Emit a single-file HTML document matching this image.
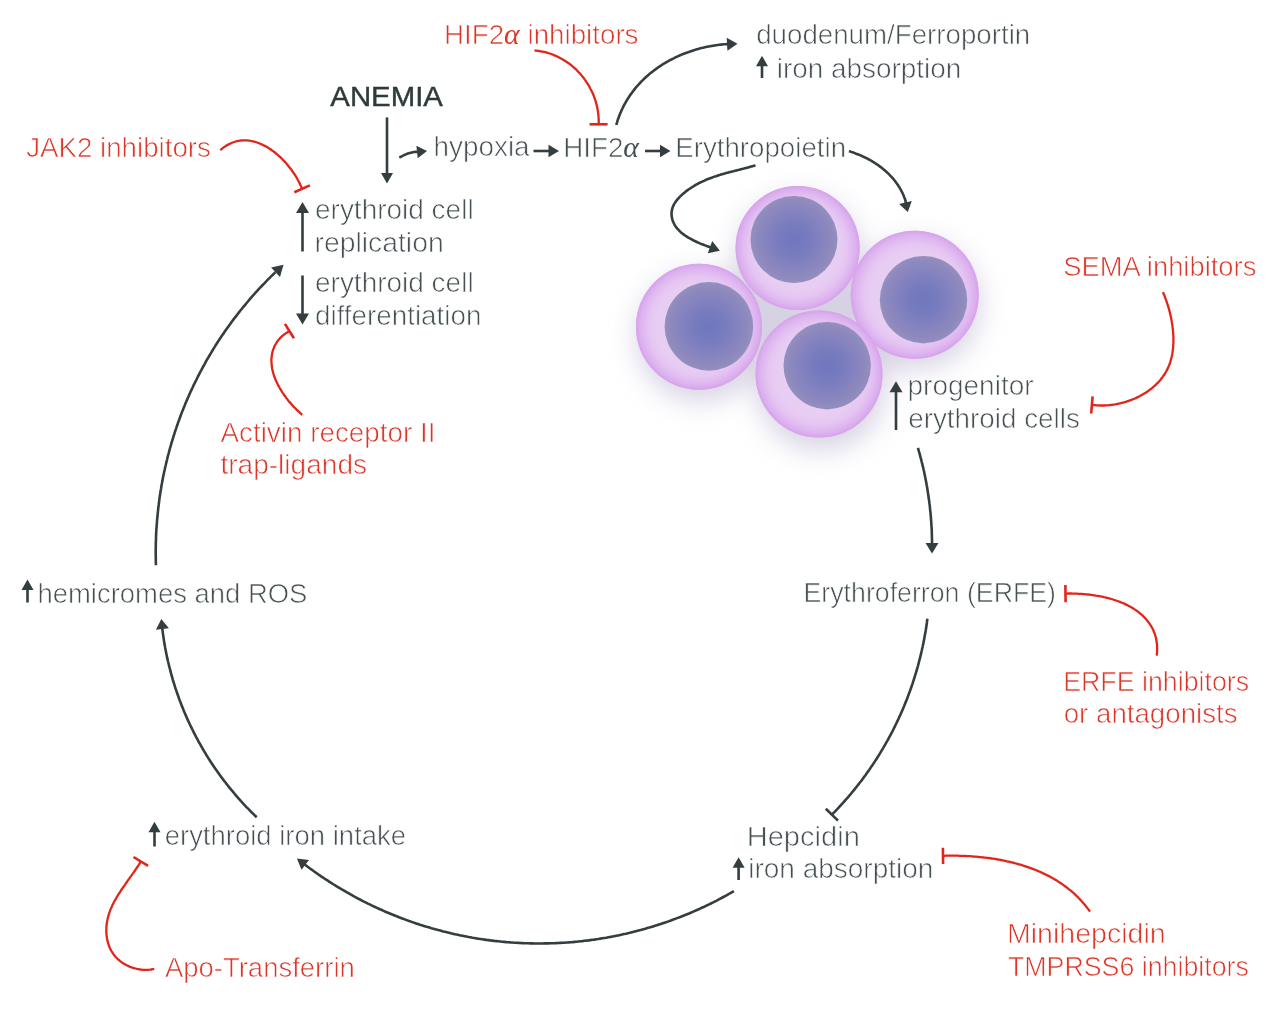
<!DOCTYPE html>
<html><head><meta charset="utf-8">
<style>
html,body{margin:0;padding:0;background:#fff;width:1280px;height:1025px;overflow:hidden}
svg{display:block;will-change:transform}
text{font-family:"Liberation Sans",sans-serif;font-size:27px;stroke:#fff;stroke-width:0.65px}
.g{fill:#465052}
.b{fill:#2f3a3a;stroke:#2f3a3a;stroke-width:0.4px}
.r{fill:#dc3627}
.ln{fill:none;stroke:#343d3f;stroke-width:2.6;stroke-linejoin:round}
.rl{fill:none;stroke:#e1251b;stroke-width:2.3}
.bar{stroke-width:2.6}
.ah{fill:#343d3f}
.al{font-family:"Liberation Serif",serif;font-style:italic;font-size:29px;stroke:none}


</style></head>
<body>
<svg width="1280" height="1025" viewBox="0 0 1280 1025">
<defs>
<filter id="blurS" x="-100%" y="-100%" width="300%" height="300%"><feGaussianBlur stdDeviation="14"/></filter>
<filter id="blur1" x="-10%" y="-10%" width="120%" height="120%"><feGaussianBlur stdDeviation="0.7"/></filter>
<radialGradient id="cyto" cx="0.5" cy="0.5" r="0.5">
<stop offset="0" stop-color="#e9d1f4"/>
<stop offset="0.68" stop-color="#e8cdf3"/>
<stop offset="0.8" stop-color="#e5c5f2"/>
<stop offset="0.9" stop-color="#dfb7f0"/>
<stop offset="0.96" stop-color="#daadee"/>
<stop offset="1" stop-color="#d7a6ed"/>
</radialGradient>
<radialGradient id="nuc" cx="0.5" cy="0.5" r="0.5">
<stop offset="0" stop-color="#7077be"/>
<stop offset="0.35" stop-color="#777bbe"/>
<stop offset="0.65" stop-color="#8583c0"/>
<stop offset="0.86" stop-color="#8d89bd"/>
<stop offset="1" stop-color="#948fbf"/>
</radialGradient>
</defs>
<g filter="url(#blurS)" opacity="0.7">
<circle cx="701" cy="337" r="64" fill="#c6bfd7"/>
<circle cx="799" cy="258" r="62" fill="#c6bfd7"/>
<circle cx="916" cy="305" r="64" fill="#c6bfd7"/>
<circle cx="821" cy="386" r="64" fill="#c6bfd7"/>
<rect x="730" y="275" width="160" height="100" fill="#c6bfd7"/>
</g>
<g>
<circle cx="699" cy="326.8" r="63" fill="url(#cyto)"/>
<circle cx="699" cy="326.8" r="62" fill="none" stroke="#d9a6ec" stroke-width="2" filter="url(#blur1)"/>
<circle cx="708.9" cy="326.4" r="44.3" fill="url(#nuc)" filter="url(#blur1)"/>
<circle cx="797.6" cy="248" r="62" fill="url(#cyto)"/>
<circle cx="797.6" cy="248" r="61" fill="none" stroke="#d9a6ec" stroke-width="2" filter="url(#blur1)"/>
<circle cx="794" cy="239.5" r="43.5" fill="url(#nuc)" filter="url(#blur1)"/>
<circle cx="914.7" cy="294.7" r="64" fill="url(#cyto)"/>
<circle cx="914.7" cy="294.7" r="63" fill="none" stroke="#d9a6ec" stroke-width="2" filter="url(#blur1)"/>
<circle cx="923.5" cy="299.7" r="43.7" fill="url(#nuc)" filter="url(#blur1)"/>
<circle cx="819" cy="374" r="63.5" fill="url(#cyto)"/>
<circle cx="819" cy="374" r="62.5" fill="none" stroke="#d9a6ec" stroke-width="2" filter="url(#blur1)"/>
<circle cx="827.2" cy="365.7" r="43.7" fill="url(#nuc)" filter="url(#blur1)"/>
</g>

<path class="ln" d="M387.0,117.4 L387.0,174.1"/>
<path class="ln" d="M302.5,251.5 L302.5,212.0"/>
<path class="ln" d="M302.5,275.5 L302.5,314.5"/>
<path class="ln" d="M533.5,151.0 L549.5,151.0"/>
<path class="ln" d="M645.0,151.0 L661.0,151.0"/>
<path class="ln" d="M896.0,430.0 L896.0,391.2"/>
<path class="ln" d="M27.5,602.5 L27.5,589.0"/>
<path class="ln" d="M154.5,846.5 L154.5,831.3"/>
<path class="ln" d="M738.6,880.0 L738.6,866.8"/>
<path class="ln" d="M762.0,78.0 L762.0,65.2"/>
<path class="ln" d="M399.3,157.6 L400.7,156.8 L402.1,156.1 L403.6,155.4 L405.0,154.7 L406.5,154.1 L408.0,153.6 L409.6,153.1 L411.1,152.7 L412.7,152.3 L414.2,152.0 L415.8,151.7 L418.1,152.0"/>
<path class="ln" d="M616.3,125.0 L616.7,123.5 L617.2,121.9 L617.6,120.4 L618.1,118.9 L618.7,117.4 L619.2,116.0 L619.8,114.5 L620.4,113.1 L621.0,111.7 L621.6,110.2 L622.3,108.8 L622.9,107.5 L623.6,106.1 L624.3,104.7 L625.1,103.4 L625.8,102.1 L626.6,100.7 L627.4,99.4 L628.2,98.2 L629.0,96.9 L629.8,95.6 L630.7,94.4 L631.6,93.2 L632.5,92.0 L633.4,90.8 L634.3,89.6 L635.2,88.4 L636.2,87.2 L637.2,86.1 L638.2,85.0 L639.2,83.9 L640.2,82.8 L641.2,81.7 L642.3,80.6 L643.3,79.6 L644.4,78.5 L645.5,77.5 L646.6,76.5 L647.8,75.5 L648.9,74.5 L650.0,73.6 L651.2,72.6 L652.4,71.7 L653.6,70.8 L654.8,69.9 L656.0,69.0 L657.2,68.1 L658.4,67.2 L659.7,66.4 L660.9,65.6 L662.2,64.7 L663.5,63.9 L664.8,63.2 L666.1,62.4 L667.4,61.6 L668.7,60.9 L670.0,60.2 L671.4,59.5 L672.7,58.8 L674.1,58.1 L675.4,57.4 L676.8,56.8 L678.2,56.1 L679.6,55.5 L681.0,54.9 L682.4,54.3 L683.8,53.8 L685.2,53.2 L686.6,52.7 L688.1,52.2 L689.5,51.7 L691.0,51.2 L692.4,50.7 L693.9,50.2 L695.3,49.8 L696.8,49.3 L698.3,48.9 L699.7,48.5 L701.2,48.1 L702.7,47.8 L704.2,47.4 L705.7,47.1 L707.2,46.8 L708.7,46.5 L710.2,46.2 L711.7,45.9 L713.2,45.7 L714.7,45.4 L716.2,45.2 L717.7,45.0 L719.3,44.8 L720.8,44.6 L722.3,44.5 L723.8,44.3 L725.3,44.2 L726.9,44.1 L728.0,44.2"/>
<path class="ln" d="M848.9,151.2 L850.4,151.6 L851.8,152.1 L853.3,152.6 L854.7,153.1 L856.2,153.7 L857.6,154.2 L859.1,154.8 L860.5,155.4 L861.9,156.0 L863.3,156.7 L864.7,157.3 L866.1,158.0 L867.5,158.7 L868.9,159.5 L870.3,160.2 L871.6,161.0 L873.0,161.8 L874.3,162.6 L875.6,163.5 L876.9,164.4 L878.2,165.2 L879.4,166.1 L880.7,167.1 L881.9,168.0 L883.1,169.0 L884.3,170.0 L885.5,171.0 L886.6,172.0 L887.8,173.1 L888.9,174.2 L890.0,175.3 L891.0,176.4 L892.1,177.5 L893.1,178.7 L894.0,179.8 L895.0,181.0 L895.9,182.2 L896.8,183.5 L897.7,184.7 L898.5,186.0 L899.4,187.3 L900.1,188.6 L900.9,189.9 L901.6,191.3 L902.3,192.6 L902.9,194.0 L903.6,195.4 L904.1,196.9 L904.7,198.3 L905.2,199.8 L905.6,201.2 L905.7,203.4"/>
<path class="ln" d="M755.5,165.4 L754.0,165.8 L752.6,166.2 L751.1,166.6 L749.6,167.0 L748.2,167.4 L746.7,167.8 L745.2,168.2 L743.8,168.6 L742.3,168.9 L740.8,169.3 L739.4,169.7 L737.9,170.0 L736.4,170.4 L734.9,170.8 L733.5,171.2 L732.0,171.5 L730.5,171.9 L729.1,172.3 L727.6,172.7 L726.1,173.1 L724.7,173.5 L723.2,173.9 L721.8,174.3 L720.3,174.8 L718.8,175.2 L717.4,175.7 L715.9,176.2 L714.5,176.6 L713.1,177.1 L711.6,177.7 L710.2,178.2 L708.8,178.8 L707.3,179.3 L705.9,179.9 L704.5,180.6 L703.1,181.2 L701.7,181.9 L700.3,182.5 L698.9,183.2 L697.5,184.0 L696.1,184.7 L694.7,185.5 L693.4,186.4 L692.0,187.2 L690.7,188.1 L689.3,189.0 L688.0,189.9 L686.6,190.9 L685.3,191.9 L684.1,192.9 L682.8,194.0 L681.6,195.1 L680.4,196.2 L679.3,197.3 L678.3,198.5 L677.2,199.7 L676.3,200.9 L675.4,202.1 L674.6,203.4 L673.9,204.6 L673.3,205.9 L672.7,207.2 L672.3,208.6 L672.0,209.9 L671.7,211.3 L671.6,212.7 L671.5,214.1 L671.6,215.5 L671.8,216.9 L672.0,218.2 L672.4,219.6 L672.8,221.0 L673.4,222.3 L674.0,223.6 L674.7,224.9 L675.5,226.2 L676.3,227.4 L677.3,228.6 L678.3,229.7 L679.3,230.8 L680.5,231.9 L681.7,232.9 L682.9,233.9 L684.2,234.9 L685.5,235.8 L686.9,236.7 L688.3,237.6 L689.8,238.4 L691.3,239.2 L692.7,240.0 L694.3,240.8 L695.8,241.5 L697.3,242.2 L698.9,242.9 L700.4,243.6 L702.0,244.2 L703.5,244.8 L705.1,245.4 L706.6,246.0 L708.1,246.5 L709.5,247.0 L711.0,247.5"/>
<path class="ln" d="M917.9,447.8 L918.5,449.8 L919.0,451.7 L919.6,453.7 L920.1,455.6 L920.6,457.6 L921.2,459.5 L921.6,461.5 L922.1,463.4 L922.6,465.4 L923.1,467.4 L923.5,469.3 L924.0,471.3 L924.4,473.3 L924.8,475.3 L925.2,477.2 L925.6,479.2 L926.0,481.2 L926.4,483.2 L926.7,485.2 L927.1,487.2 L927.4,489.2 L927.7,491.2 L928.0,493.2 L928.3,495.2 L928.6,497.2 L928.9,499.2 L929.2,501.2 L929.4,503.2 L929.7,505.2 L929.9,507.2 L930.1,509.2 L930.3,511.2 L930.5,513.2 L930.7,515.2 L930.9,517.2 L931.0,519.3 L931.2,521.3 L931.3,523.3 L931.4,525.3 L931.6,527.3 L931.7,529.4 L931.8,531.4 L931.8,533.4 L931.9,535.4 L931.9,537.4 L932.0,539.5 L932.0,541.5 L932.0,544.1"/>
<path class="ln" d="M927.4,618.7 L927.1,620.7 L926.9,622.7 L926.6,624.7 L926.3,626.7 L926.0,628.7 L925.7,630.7 L925.3,632.7 L925.0,634.6 L924.6,636.6 L924.3,638.6 L923.9,640.6 L923.5,642.6 L923.1,644.6 L922.7,646.5 L922.2,648.5 L921.8,650.5 L921.3,652.4 L920.9,654.4 L920.4,656.4 L919.9,658.3 L919.4,660.3 L918.9,662.2 L918.4,664.2 L917.9,666.1 L917.3,668.1 L916.8,670.0 L916.2,671.9 L915.6,673.9 L915.0,675.8 L914.4,677.7 L913.8,679.7 L913.2,681.6 L912.6,683.5 L911.9,685.4 L911.3,687.3 L910.6,689.2 L909.9,691.1 L909.2,693.0 L908.5,694.9 L907.8,696.8 L907.1,698.7 L906.4,700.6 L905.6,702.4 L904.8,704.3 L904.1,706.2 L903.3,708.0 L902.5,709.9 L901.7,711.7 L900.9,713.6 L900.1,715.4 L899.2,717.3 L898.4,719.1 L897.5,720.9 L896.7,722.7 L895.8,724.5 L894.9,726.4 L894.0,728.2 L893.1,730.0 L892.2,731.8 L891.2,733.6 L890.3,735.3 L889.3,737.1 L888.4,738.9 L887.4,740.7 L886.4,742.4 L885.4,744.2 L884.4,745.9 L883.4,747.7 L882.4,749.4 L881.3,751.1 L880.3,752.9 L879.2,754.6 L878.2,756.3 L877.1,758.0 L876.0,759.7 L874.9,761.4 L873.8,763.1 L872.7,764.8 L871.5,766.4 L870.4,768.1 L869.3,769.8 L868.1,771.4 L866.9,773.1 L865.8,774.7 L864.6,776.3 L863.4,777.9 L862.2,779.6 L861.0,781.2 L859.7,782.8 L858.5,784.4 L857.2,786.0 L856.0,787.5 L854.7,789.1 L853.5,790.7 L852.2,792.2 L850.9,793.8 L849.6,795.3 L848.3,796.9 L847.0,798.4 L845.6,799.9 L844.3,801.4 L843.0,802.9 L841.6,804.4 L840.2,805.9 L838.9,807.4 L837.5,808.9 L836.1,810.3 L834.7,811.8 L833.3,813.2 L831.9,814.7"/>
<path class="ln bar" d="M825.8,808.7 L838.0,820.6"/>
<path class="ln" d="M733.9,891.2 L732.1,892.2 L730.4,893.2 L728.6,894.1 L726.9,895.1 L725.1,896.1 L723.4,897.0 L721.6,898.0 L719.8,898.9 L718.0,899.9 L716.3,900.8 L714.5,901.7 L712.7,902.6 L710.9,903.5 L709.1,904.4 L707.3,905.2 L705.5,906.1 L703.6,907.0 L701.8,907.8 L700.0,908.6 L698.2,909.5 L696.3,910.3 L694.5,911.1 L692.7,911.9 L690.8,912.7 L689.0,913.5 L687.1,914.2 L685.2,915.0 L683.4,915.7 L681.5,916.5 L679.7,917.2 L677.8,917.9 L675.9,918.6 L674.0,919.3 L672.1,920.0 L670.3,920.7 L668.4,921.4 L666.5,922.1 L664.6,922.7 L662.7,923.3 L660.8,924.0 L658.9,924.6 L656.9,925.2 L655.0,925.8 L653.1,926.4 L651.2,927.0 L649.3,927.6 L647.3,928.1 L645.4,928.7 L643.5,929.2 L641.5,929.8 L639.6,930.3 L637.7,930.8 L635.7,931.3 L633.8,931.8 L631.8,932.3 L629.9,932.8 L627.9,933.2 L626.0,933.7 L624.0,934.1 L622.1,934.6 L620.1,935.0 L618.1,935.4 L616.2,935.8 L614.2,936.2 L612.2,936.6 L610.2,936.9 L608.3,937.3 L606.3,937.7 L604.3,938.0 L602.3,938.3 L600.4,938.6 L598.4,939.0 L596.4,939.3 L594.4,939.6 L592.4,939.8 L590.4,940.1 L588.4,940.4 L586.4,940.6 L584.5,940.8 L582.5,941.1 L580.5,941.3 L578.5,941.5 L576.5,941.7 L574.5,941.9 L572.5,942.1 L570.5,942.2 L568.5,942.4 L566.5,942.5 L564.5,942.7 L562.5,942.8 L560.5,942.9 L558.5,943.0 L556.4,943.1 L554.4,943.2 L552.4,943.3 L550.4,943.3 L548.4,943.4 L546.4,943.4 L544.4,943.4 L542.4,943.5 L540.4,943.5 L538.4,943.5 L536.4,943.5 L534.4,943.5 L532.4,943.4 L530.4,943.4 L528.4,943.3 L526.3,943.3 L524.3,943.2 L522.3,943.1 L520.3,943.0 L518.3,942.9 L516.3,942.8 L514.3,942.7 L512.3,942.5 L510.3,942.4 L508.3,942.2 L506.3,942.1 L504.3,941.9 L502.3,941.7 L500.3,941.5 L498.3,941.3 L496.3,941.1 L494.3,940.9 L492.3,940.6 L490.3,940.4 L488.4,940.1 L486.4,939.9 L484.4,939.6 L482.4,939.3 L480.4,939.0 L478.4,938.7 L476.4,938.4 L474.5,938.0 L472.5,937.7 L470.5,937.3 L468.5,937.0 L466.6,936.6 L464.6,936.2 L462.6,935.8 L460.7,935.4 L458.7,935.0 L456.7,934.6 L454.8,934.2 L452.8,933.7 L450.9,933.3 L448.9,932.8 L447.0,932.3 L445.0,931.8 L443.1,931.4 L441.1,930.8 L439.2,930.3 L437.2,929.8 L435.3,929.3 L433.4,928.7 L431.4,928.2 L429.5,927.6 L427.6,927.0 L425.7,926.5 L423.8,925.9 L421.8,925.3 L419.9,924.7 L418.0,924.0 L416.1,923.4 L414.2,922.8 L412.3,922.1 L410.4,921.4 L408.5,920.8 L406.6,920.1 L404.8,919.4 L402.9,918.7 L401.0,918.0 L399.1,917.3 L397.3,916.5 L395.4,915.8 L393.5,915.0 L391.7,914.3 L389.8,913.5 L388.0,912.7 L386.1,912.0 L384.3,911.2 L382.4,910.3 L380.6,909.5 L378.8,908.7 L377.0,907.9 L375.1,907.0 L373.3,906.2 L371.5,905.3 L369.7,904.4 L367.9,903.6 L366.1,902.7 L364.3,901.8 L362.5,900.9 L360.7,899.9 L358.9,899.0 L357.2,898.1 L355.4,897.1 L353.6,896.2 L351.9,895.2 L350.1,894.2 L348.4,893.2 L346.6,892.2 L344.9,891.2 L343.2,890.2 L341.4,889.2 L339.7,888.2 L338.0,887.1 L336.3,886.1 L334.6,885.0 L332.9,884.0 L331.2,882.9 L329.5,881.8 L327.8,880.7 L326.1,879.6 L324.4,878.5 L322.8,877.4 L321.1,876.3 L319.4,875.2 L317.8,874.0 L316.2,872.9 L314.5,871.7 L312.9,870.5 L311.3,869.4 L309.6,868.2 L308.0,867.0 L306.4,865.8 L304.4,864.2"/>
<path class="ln" d="M256.7,817.2 L255.2,815.8 L253.8,814.4 L252.3,813.0 L250.9,811.6 L249.5,810.1 L248.1,808.7 L246.7,807.3 L245.3,805.8 L243.9,804.3 L242.6,802.8 L241.2,801.4 L239.9,799.9 L238.5,798.3 L237.2,796.8 L235.9,795.3 L234.6,793.8 L233.3,792.2 L232.0,790.7 L230.7,789.1 L229.4,787.6 L228.2,786.0 L226.9,784.4 L225.7,782.8 L224.4,781.2 L223.2,779.6 L222.0,778.0 L220.8,776.4 L219.6,774.8 L218.4,773.1 L217.3,771.5 L216.1,769.8 L215.0,768.2 L213.8,766.5 L212.7,764.8 L211.6,763.2 L210.5,761.5 L209.4,759.8 L208.3,758.1 L207.3,756.4 L206.2,754.7 L205.2,752.9 L204.1,751.2 L203.1,749.5 L202.1,747.7 L201.1,746.0 L200.1,744.2 L199.1,742.5 L198.1,740.7 L197.2,738.9 L196.2,737.2 L195.3,735.4 L194.4,733.6 L193.5,731.8 L192.6,730.0 L191.7,728.2 L190.8,726.4 L189.9,724.5 L189.1,722.7 L188.2,720.9 L187.4,719.1 L186.6,717.2 L185.8,715.4 L185.0,713.5 L184.2,711.7 L183.4,709.8 L182.7,707.9 L181.9,706.1 L181.2,704.2 L180.5,702.3 L179.7,700.4 L179.0,698.5 L178.4,696.6 L177.7,694.7 L177.0,692.8 L176.4,690.9 L175.7,689.0 L175.1,687.1 L174.5,685.2 L173.9,683.2 L173.3,681.3 L172.7,679.4 L172.2,677.4 L171.6,675.5 L171.1,673.6 L170.6,671.6 L170.1,669.7 L169.6,667.7 L169.1,665.8 L168.6,663.8 L168.1,661.8 L167.7,659.9 L167.2,657.9 L166.8,655.9 L166.4,654.0 L166.0,652.0 L165.6,650.0 L165.2,648.0 L164.9,646.1 L164.5,644.1 L164.2,642.1 L163.9,640.1 L163.6,638.1 L163.3,636.1 L163.0,634.1 L162.7,632.1 L162.5,630.1 L162.3,628.0"/>
<path class="ln" d="M155.9,565.2 L155.9,563.2 L155.8,561.2 L155.8,559.2 L155.8,557.1 L155.7,555.1 L155.7,553.1 L155.7,551.1 L155.7,549.1 L155.8,547.1 L155.8,545.1 L155.8,543.1 L155.9,541.0 L156.0,539.0 L156.0,537.0 L156.1,535.0 L156.2,533.0 L156.3,531.0 L156.4,529.0 L156.6,527.0 L156.7,525.0 L156.9,523.0 L157.0,521.0 L157.2,519.0 L157.4,517.0 L157.6,515.0 L157.8,512.9 L158.0,510.9 L158.2,508.9 L158.4,507.0 L158.7,505.0 L158.9,503.0 L159.2,501.0 L159.4,499.0 L159.7,497.0 L160.0,495.0 L160.3,493.0 L160.6,491.0 L161.0,489.0 L161.3,487.0 L161.6,485.1 L162.0,483.1 L162.4,481.1 L162.7,479.1 L163.1,477.1 L163.5,475.2 L163.9,473.2 L164.3,471.2 L164.8,469.3 L165.2,467.3 L165.7,465.3 L166.1,463.4 L166.6,461.4 L167.1,459.5 L167.5,457.5 L168.0,455.6 L168.6,453.6 L169.1,451.7 L169.6,449.7 L170.1,447.8 L170.7,445.9 L171.2,443.9 L171.8,442.0 L172.4,440.1 L173.0,438.2 L173.6,436.2 L174.2,434.3 L174.8,432.4 L175.4,430.5 L176.1,428.6 L176.7,426.7 L177.4,424.8 L178.0,422.9 L178.7,421.0 L179.4,419.1 L180.1,417.2 L180.8,415.3 L181.5,413.4 L182.2,411.6 L183.0,409.7 L183.7,407.8 L184.5,406.0 L185.2,404.1 L186.0,402.2 L186.8,400.4 L187.6,398.5 L188.4,396.7 L189.2,394.9 L190.0,393.0 L190.9,391.2 L191.7,389.4 L192.6,387.5 L193.4,385.7 L194.3,383.9 L195.2,382.1 L196.1,380.3 L197.0,378.5 L197.9,376.7 L198.8,374.9 L199.7,373.1 L200.6,371.3 L201.6,369.6 L202.5,367.8 L203.5,366.0 L204.5,364.3 L205.4,362.5 L206.4,360.7 L207.4,359.0 L208.4,357.3 L209.5,355.5 L210.5,353.8 L211.5,352.1 L212.6,350.3 L213.6,348.6 L214.7,346.9 L215.7,345.2 L216.8,343.5 L217.9,341.8 L219.0,340.1 L220.1,338.5 L221.2,336.8 L222.4,335.1 L223.5,333.5 L224.6,331.8 L225.8,330.1 L226.9,328.5 L228.1,326.9 L229.3,325.2 L230.5,323.6 L231.6,322.0 L232.8,320.4 L234.0,318.8 L235.3,317.1 L236.5,315.6 L237.7,314.0 L239.0,312.4 L240.2,310.8 L241.5,309.2 L242.7,307.7 L244.0,306.1 L245.3,304.6 L246.6,303.0 L247.9,301.5 L249.2,299.9 L250.5,298.4 L251.8,296.9 L253.1,295.4 L254.5,293.9 L255.8,292.4 L257.2,290.9 L258.5,289.4 L259.9,287.9 L261.3,286.5 L262.7,285.0 L264.1,283.6 L265.5,282.1 L266.9,280.7 L268.3,279.2 L269.7,277.8 L271.1,276.4 L272.6,275.0 L274.0,273.6 L275.4,272.2"/>
<path class="rl" d="M534.5,50.5 L536.1,50.6 L537.6,50.8 L539.2,51.0 L540.7,51.3 L542.2,51.6 L543.8,51.9 L545.3,52.2 L546.8,52.6 L548.2,53.1 L549.7,53.5 L551.2,54.0 L552.6,54.5 L554.0,55.1 L555.4,55.7 L556.8,56.3 L558.2,57.0 L559.6,57.7 L560.9,58.4 L562.3,59.2 L563.6,59.9 L564.9,60.7 L566.1,61.6 L567.4,62.4 L568.7,63.3 L569.9,64.2 L571.1,65.2 L572.3,66.2 L573.4,67.1 L574.6,68.2 L575.7,69.2 L576.8,70.3 L577.9,71.4 L578.9,72.5 L580.0,73.6 L581.0,74.8 L582.0,75.9 L582.9,77.1 L583.9,78.3 L584.8,79.6 L585.7,80.8 L586.5,82.1 L587.4,83.4 L588.2,84.7 L589.0,86.0 L589.7,87.3 L590.4,88.7 L591.1,90.0 L591.8,91.4 L592.5,92.8 L593.1,94.2 L593.7,95.6 L594.2,97.1 L594.7,98.5 L595.2,100.0 L595.7,101.4 L596.1,102.9 L596.5,104.4 L596.9,105.9 L597.2,107.4 L597.5,108.9 L597.8,110.4 L598.0,111.9 L598.2,113.5 L598.4,115.0 L598.5,116.5 L598.6,118.1 L598.7,119.6 L598.7,121.2 L598.7,122.7 L598.6,124.3"/>
<path class="rl bar" d="M589.6,124.3 L607.6,124.3"/>
<path class="rl" d="M220.3,150.2 L221.7,149.0 L223.0,147.9 L224.4,146.9 L225.8,146.0 L227.2,145.1 L228.6,144.4 L230.0,143.7 L231.4,143.0 L232.8,142.5 L234.2,142.0 L235.7,141.5 L237.1,141.2 L238.5,140.9 L239.9,140.7 L241.4,140.5 L242.8,140.4 L244.2,140.3 L245.7,140.4 L247.1,140.4 L248.5,140.6 L249.9,140.7 L251.3,141.0 L252.8,141.3 L254.2,141.6 L255.6,142.0 L257.0,142.5 L258.4,142.9 L259.7,143.5 L261.1,144.1 L262.5,144.7 L263.8,145.4 L265.2,146.1 L266.5,146.8 L267.8,147.6 L269.2,148.4 L270.5,149.3 L271.7,150.2 L273.0,151.1 L274.3,152.0 L275.5,153.0 L276.7,154.0 L277.9,155.1 L279.1,156.1 L280.3,157.2 L281.5,158.3 L282.6,159.5 L283.7,160.6 L284.8,161.8 L285.9,163.0 L287.0,164.2 L288.0,165.5 L289.0,166.7 L290.0,168.0 L291.0,169.2 L291.9,170.5 L292.8,171.8 L293.7,173.1 L294.6,174.4 L295.4,175.7 L296.2,177.0 L297.0,178.3 L297.7,179.7 L298.4,181.0 L299.1,182.3 L299.8,183.6 L300.4,184.9 L301.0,186.2 L301.6,187.5 L302.1,188.8"/>
<path class="rl bar" d="M294.3,192.2 L309.9,185.4"/>
<path class="rl" d="M302.2,414.8 L301.1,413.9 L300.1,412.9 L299.0,411.9 L297.9,410.9 L296.8,409.9 L295.8,408.8 L294.7,407.7 L293.6,406.6 L292.6,405.5 L291.5,404.3 L290.5,403.1 L289.4,401.9 L288.4,400.7 L287.4,399.4 L286.4,398.1 L285.5,396.8 L284.5,395.5 L283.6,394.2 L282.7,392.9 L281.8,391.5 L281.0,390.1 L280.1,388.7 L279.3,387.3 L278.5,385.9 L277.8,384.5 L277.1,383.1 L276.4,381.6 L275.8,380.2 L275.2,378.7 L274.6,377.3 L274.1,375.8 L273.6,374.3 L273.2,372.9 L272.8,371.4 L272.4,369.9 L272.1,368.4 L271.9,366.9 L271.7,365.5 L271.6,364.0 L271.5,362.5 L271.4,361.0 L271.4,359.5 L271.5,358.1 L271.7,356.6 L271.9,355.2 L272.1,353.7 L272.4,352.3 L272.8,350.9 L273.2,349.5 L273.8,348.2 L274.3,346.8 L274.9,345.5 L275.6,344.2 L276.4,342.9 L277.2,341.7 L278.1,340.4 L279.1,339.3 L280.1,338.1 L281.2,337.0 L282.4,335.9 L283.7,334.9 L285.0,333.9 L286.4,332.9 L287.9,332.0 L289.4,331.1"/>
<path class="rl bar" d="M293.9,338.3 L284.9,323.9"/>
<path class="rl" d="M1163.0,292.2 L1163.5,293.5 L1164.1,294.8 L1164.6,296.1 L1165.1,297.5 L1165.6,298.8 L1166.1,300.2 L1166.6,301.6 L1167.1,303.1 L1167.6,304.5 L1168.0,305.9 L1168.5,307.4 L1168.9,308.9 L1169.3,310.4 L1169.7,311.9 L1170.1,313.4 L1170.4,314.9 L1170.8,316.5 L1171.1,318.0 L1171.4,319.6 L1171.7,321.1 L1171.9,322.7 L1172.2,324.3 L1172.4,325.8 L1172.6,327.4 L1172.8,329.0 L1173.0,330.6 L1173.1,332.1 L1173.2,333.7 L1173.3,335.3 L1173.4,336.9 L1173.4,338.5 L1173.4,340.0 L1173.4,341.6 L1173.4,343.2 L1173.3,344.7 L1173.2,346.3 L1173.1,347.8 L1172.9,349.3 L1172.7,350.9 L1172.5,352.4 L1172.3,353.9 L1172.0,355.4 L1171.7,356.8 L1171.3,358.3 L1170.9,359.8 L1170.5,361.2 L1170.1,362.6 L1169.6,364.0 L1169.1,365.4 L1168.5,366.7 L1167.9,368.1 L1167.3,369.4 L1166.6,370.7 L1165.9,372.0 L1165.1,373.3 L1164.4,374.5 L1163.5,375.7 L1162.7,376.9 L1161.8,378.1 L1160.9,379.2 L1160.0,380.4 L1159.0,381.5 L1158.0,382.6 L1156.9,383.6 L1155.9,384.7 L1154.8,385.7 L1153.7,386.7 L1152.5,387.7 L1151.4,388.6 L1150.2,389.5 L1149.0,390.4 L1147.8,391.3 L1146.5,392.2 L1145.2,393.0 L1143.9,393.8 L1142.6,394.6 L1141.3,395.3 L1139.9,396.1 L1138.6,396.8 L1137.2,397.4 L1135.8,398.1 L1134.4,398.7 L1132.9,399.3 L1131.5,399.9 L1130.0,400.4 L1128.6,400.9 L1127.1,401.4 L1125.6,401.9 L1124.1,402.3 L1122.6,402.7 L1121.1,403.1 L1119.6,403.5 L1118.0,403.8 L1116.5,404.1 L1115.0,404.4 L1113.4,404.6 L1111.9,404.8 L1110.3,405.0 L1108.8,405.2 L1107.2,405.3 L1105.7,405.4 L1104.1,405.5 L1102.6,405.5 L1101.1,405.5 L1099.5,405.5 L1098.0,405.4 L1096.5,405.3 L1094.9,405.2 L1093.4,405.1 L1091.9,404.9"/>
<path class="rl bar" d="M1092.6,396.3 L1091.2,413.5"/>
<path class="rl" d="M1156.7,655.6 L1156.9,653.8 L1157.1,652.1 L1157.1,650.4 L1157.2,648.7 L1157.1,647.1 L1157.1,645.4 L1156.9,643.8 L1156.7,642.3 L1156.5,640.7 L1156.2,639.2 L1155.9,637.7 L1155.5,636.3 L1155.1,634.8 L1154.6,633.4 L1154.0,632.0 L1153.5,630.7 L1152.9,629.3 L1152.2,628.0 L1151.5,626.8 L1150.8,625.5 L1150.0,624.3 L1149.2,623.1 L1148.3,621.9 L1147.4,620.8 L1146.5,619.7 L1145.5,618.6 L1144.5,617.5 L1143.5,616.5 L1142.4,615.4 L1141.3,614.5 L1140.2,613.5 L1139.1,612.6 L1137.9,611.6 L1136.7,610.8 L1135.4,609.9 L1134.2,609.1 L1132.9,608.3 L1131.6,607.5 L1130.3,606.7 L1128.9,606.0 L1127.6,605.3 L1126.2,604.6 L1124.8,603.9 L1123.4,603.3 L1121.9,602.7 L1120.5,602.1 L1119.0,601.5 L1117.5,601.0 L1116.0,600.5 L1114.5,600.0 L1113.0,599.5 L1111.5,599.0 L1109.9,598.6 L1108.4,598.2 L1106.9,597.8 L1105.3,597.4 L1103.7,597.1 L1102.2,596.7 L1100.6,596.4 L1099.0,596.1 L1097.4,595.8 L1095.9,595.6 L1094.3,595.3 L1092.7,595.1 L1091.1,594.9 L1089.6,594.7 L1088.0,594.5 L1086.4,594.3 L1084.9,594.2 L1083.3,594.1 L1081.8,593.9 L1080.2,593.8 L1078.7,593.8 L1077.2,593.7 L1075.7,593.6 L1074.2,593.6 L1072.7,593.6 L1071.2,593.5 L1069.8,593.5 L1068.3,593.5 L1066.9,593.6 L1065.5,593.6"/>
<path class="rl bar" d="M1065.4,584.9 L1065.6,602.3"/>
<path class="rl" d="M1090.0,911.7 L1089.1,910.4 L1088.2,909.1 L1087.2,907.9 L1086.3,906.7 L1085.3,905.4 L1084.3,904.2 L1083.3,903.1 L1082.3,901.9 L1081.2,900.7 L1080.2,899.6 L1079.1,898.5 L1078.1,897.4 L1077.0,896.3 L1075.9,895.3 L1074.8,894.2 L1073.7,893.2 L1072.5,892.2 L1071.4,891.2 L1070.2,890.2 L1069.0,889.3 L1067.8,888.3 L1066.6,887.4 L1065.4,886.5 L1064.2,885.6 L1063.0,884.7 L1061.7,883.9 L1060.5,883.0 L1059.2,882.2 L1058.0,881.4 L1056.7,880.6 L1055.4,879.8 L1054.1,879.0 L1052.8,878.3 L1051.4,877.5 L1050.1,876.8 L1048.8,876.1 L1047.4,875.4 L1046.1,874.7 L1044.7,874.0 L1043.3,873.4 L1041.9,872.7 L1040.6,872.1 L1039.2,871.5 L1037.7,870.9 L1036.3,870.3 L1034.9,869.7 L1033.5,869.2 L1032.1,868.6 L1030.6,868.1 L1029.2,867.6 L1027.7,867.1 L1026.3,866.6 L1024.8,866.1 L1023.3,865.6 L1021.9,865.2 L1020.4,864.7 L1018.9,864.3 L1017.4,863.9 L1015.9,863.5 L1014.4,863.1 L1012.9,862.7 L1011.4,862.3 L1009.9,861.9 L1008.4,861.6 L1006.9,861.3 L1005.4,860.9 L1003.9,860.6 L1002.4,860.3 L1000.8,860.0 L999.3,859.7 L997.8,859.5 L996.2,859.2 L994.7,858.9 L993.2,858.7 L991.6,858.5 L990.1,858.2 L988.6,858.0 L987.0,857.8 L985.5,857.6 L984.0,857.5 L982.4,857.3 L980.9,857.1 L979.3,857.0 L977.8,856.8 L976.3,856.7 L974.7,856.6 L973.2,856.5 L971.7,856.3 L970.1,856.2 L968.6,856.2 L967.1,856.1 L965.5,856.0 L964.0,855.9 L962.5,855.9 L961.0,855.8 L959.4,855.8 L957.9,855.7 L956.4,855.7 L954.9,855.7 L953.4,855.7 L951.9,855.7 L950.4,855.7 L948.9,855.7 L947.4,855.7 L946.0,855.7 L944.5,855.8 L943.0,855.8"/>
<path class="rl bar" d="M942.9,847.7 L943.1,863.9"/>
<path class="rl" d="M154.3,968.9 L152.7,969.2 L151.1,969.5 L149.6,969.7 L148.0,969.8 L146.4,969.8 L144.8,969.8 L143.2,969.8 L141.6,969.6 L140.0,969.5 L138.5,969.2 L136.9,968.9 L135.4,968.5 L133.9,968.1 L132.4,967.7 L130.9,967.1 L129.5,966.6 L128.1,965.9 L126.7,965.3 L125.3,964.5 L124.0,963.8 L122.7,963.0 L121.4,962.1 L120.2,961.2 L119.1,960.2 L118.0,959.3 L116.9,958.2 L115.9,957.2 L114.9,956.1 L114.0,954.9 L113.1,953.7 L112.3,952.5 L111.6,951.3 L110.9,950.0 L110.2,948.7 L109.6,947.4 L109.1,946.0 L108.6,944.7 L108.2,943.3 L107.8,941.9 L107.4,940.4 L107.1,939.0 L106.9,937.5 L106.7,936.0 L106.5,934.6 L106.4,933.1 L106.4,931.6 L106.3,930.1 L106.4,928.5 L106.4,927.0 L106.6,925.5 L106.7,924.0 L106.9,922.5 L107.2,921.0 L107.5,919.5 L107.8,918.0 L108.2,916.6 L108.6,915.1 L109.1,913.6 L109.6,912.2 L110.1,910.7 L110.6,909.3 L111.2,907.9 L111.9,906.5 L112.5,905.1 L113.2,903.7 L113.9,902.3 L114.6,901.0 L115.4,899.6 L116.2,898.2 L116.9,896.9 L117.8,895.5 L118.6,894.2 L119.4,892.9 L120.3,891.6 L121.2,890.2 L122.0,888.9 L122.9,887.6 L123.8,886.3 L124.7,885.1 L125.6,883.8 L126.5,882.5 L127.4,881.2 L128.3,879.9 L129.2,878.7 L130.1,877.4 L131.0,876.2 L131.9,874.9 L132.8,873.7 L133.7,872.4 L134.5,871.2 L135.4,870.0 L136.2,868.7 L137.0,867.5 L137.8,866.3 L138.6,865.1 L139.4,863.8 L140.1,862.6 L140.8,861.4"/>
<path class="rl bar" d="M148.1,865.8 L133.5,857.0"/>
<polygon class="ah" points="387.0,183.6 381.0,173.1 393.0,173.1"/>
<polygon class="ah" points="302.5,202.0 309.0,213.0 296.0,213.0"/>
<polygon class="ah" points="302.5,324.5 296.0,313.5 309.0,313.5"/>
<polygon class="ah" points="559.0,151.0 548.5,157.3 548.5,144.7"/>
<polygon class="ah" points="670.5,151.0 660.0,157.3 660.0,144.7"/>
<polygon class="ah" points="896.0,381.2 902.5,392.2 889.5,392.2"/>
<polygon class="ah" points="27.5,579.5 33.5,590.0 21.5,590.0"/>
<polygon class="ah" points="154.5,821.8 160.5,832.3 148.5,832.3"/>
<polygon class="ah" points="738.6,857.3 744.6,867.8 732.6,867.8"/>
<polygon class="ah" points="762.0,55.7 768.0,66.2 756.0,66.2"/>
<polygon class="ah" points="427.0,151.0 417.7,158.3 416.4,145.8"/>
<polygon class="ah" points="737.5,43.8 727.4,50.8 726.7,37.8"/>
<polygon class="ah" points="907.8,212.1 899.1,203.9 911.8,200.9"/>
<polygon class="ah" points="719.9,250.7 707.8,253.3 712.2,241.0"/>
<polygon class="ah" points="932.0,553.6 925.5,543.1 938.5,543.1"/>
<polygon class="ah" points="296.9,858.4 309.0,859.9 301.5,869.7"/>
<polygon class="ah" points="161.3,619.1 168.9,628.3 155.9,629.8"/>
<polygon class="ah" points="283.5,264.7 280.0,276.9 271.1,267.5"/>
<text class="g" x="756.2" y="44" textLength="274.0" lengthAdjust="spacingAndGlyphs">duodenum/Ferroportin</text>
<text class="g" x="776.7" y="78" textLength="184.7" lengthAdjust="spacingAndGlyphs">iron absorption</text>
<text class="b" x="330.3" y="105.5" textLength="112.6" lengthAdjust="spacingAndGlyphs">ANEMIA</text>
<text class="g" x="433.5" y="156" textLength="96.1" lengthAdjust="spacingAndGlyphs">hypoxia</text>
<text class="g" x="563.2" y="157" textLength="75.8" lengthAdjust="spacingAndGlyphs">HIF2<tspan class="al">α</tspan></text>
<text class="g" x="675.2" y="157" textLength="170.9" lengthAdjust="spacingAndGlyphs">Erythropoietin</text>
<text class="g" x="315.0" y="219" textLength="158.6" lengthAdjust="spacingAndGlyphs">erythroid cell</text>
<text class="g" x="314.5" y="251.5" textLength="129.2" lengthAdjust="spacingAndGlyphs">replication</text>
<text class="g" x="315.0" y="292" textLength="158.6" lengthAdjust="spacingAndGlyphs">erythroid cell</text>
<text class="g" x="315.0" y="324.5" textLength="166.4" lengthAdjust="spacingAndGlyphs">differentiation</text>
<text class="g" x="907.5" y="395" textLength="126.1" lengthAdjust="spacingAndGlyphs">progenitor</text>
<text class="g" x="908.2" y="427.5" textLength="171.7" lengthAdjust="spacingAndGlyphs">erythroid cells</text>
<text class="g" x="37.5" y="602.5" textLength="269.9" lengthAdjust="spacingAndGlyphs">hemicromes and ROS</text>
<text class="g" x="803.5" y="602.3" textLength="252.5" lengthAdjust="spacingAndGlyphs">Erythroferron (ERFE)</text>
<text class="g" x="746.7" y="845.5" textLength="113.2" lengthAdjust="spacingAndGlyphs">Hepcidin</text>
<text class="g" x="748.2" y="877.7" textLength="185.2" lengthAdjust="spacingAndGlyphs">iron absorption</text>
<text class="g" x="164.7" y="845.2" textLength="241.4" lengthAdjust="spacingAndGlyphs">erythroid iron intake</text>
<text class="r" x="444.0" y="44" textLength="194.5" lengthAdjust="spacingAndGlyphs">HIF2<tspan class="al">α</tspan> inhibitors</text>
<text class="r" x="26.2" y="157.3" textLength="184.7" lengthAdjust="spacingAndGlyphs">JAK2 inhibitors</text>
<text class="r" x="1063.2" y="276" textLength="193.2" lengthAdjust="spacingAndGlyphs">SEMA inhibitors</text>
<text class="r" x="220.5" y="441.5" textLength="214.9" lengthAdjust="spacingAndGlyphs">Activin receptor II</text>
<text class="r" x="220.4" y="473.7" textLength="146.7" lengthAdjust="spacingAndGlyphs">trap-ligands</text>
<text class="r" x="1063.2" y="690.8" textLength="185.9" lengthAdjust="spacingAndGlyphs">ERFE inhibitors</text>
<text class="r" x="1063.7" y="723" textLength="173.9" lengthAdjust="spacingAndGlyphs">or antagonists</text>
<text class="r" x="1007.0" y="943" textLength="158.7" lengthAdjust="spacingAndGlyphs">Minihepcidin</text>
<text class="r" x="1007.9" y="976" textLength="241.0" lengthAdjust="spacingAndGlyphs">TMPRSS6 inhibitors</text>
<text class="r" x="164.9" y="977.4" textLength="189.9" lengthAdjust="spacingAndGlyphs">Apo-Transferrin</text>
</svg>
</body></html>
